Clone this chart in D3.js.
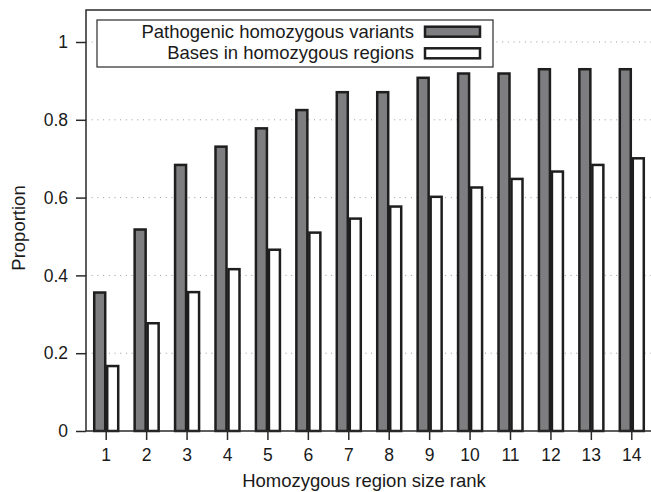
<!DOCTYPE html>
<html>
<head>
<meta charset="utf-8">
<script src="https://cdn.jsdelivr.net/npm/d3@7"></script>
<style>
  html, body { margin: 0; padding: 0; background: #fff; }
  svg { display: block; font-family: "Liberation Sans", Arial, sans-serif; }
</style>
</head>
<body>
<div id="chart"></div>
<script>
const ranks = [1, 2, 3, 4, 5, 6, 7, 8, 9, 10, 11, 12, 13, 14];
const pathogenic = [0.356, 0.518, 0.684, 0.731, 0.778, 0.825, 0.871, 0.871, 0.908, 0.919, 0.919, 0.930, 0.930, 0.930];
const bases = [0.167, 0.277, 0.357, 0.416, 0.466, 0.510, 0.546, 0.577, 0.602, 0.626, 0.648, 0.667, 0.684, 0.701];
const yTicks = [0, 0.2, 0.4, 0.6, 0.8, 1];
const seriesNames = ["Pathogenic homozygous variants", "Bases in homozygous regions"];
const seriesFill = ["#7e7e80", "#ffffff"];

const width = 651;
const height = 492;
const plotLeft = 86, plotRight = 652, plotTop = 10, plotBottom = 431;
const fontSize = 18.5;
const tickFont = 17.5;

const svg = d3.select("#chart")
    .append("svg")
    .attr("width", width)
    .attr("height", height);

const x = d3.scaleBand()
    .domain(ranks)
    .range([plotLeft, plotRight]);

const y = d3.scaleLinear()
    .domain([0, 1])
    .range([plotBottom, 42]);

const barW = 13;

// dotted grid
svg.append("g")
    .selectAll("line")
    .data(yTicks.filter(d => d > 0))
    .enter()
    .append("line")
    .attr("x1", plotLeft)
    .attr("x2", width)
    .attr("y1", d => y(d))
    .attr("y2", d => y(d))
    .attr("stroke", "#9a9a9a")
    .attr("stroke-width", 1)
    .attr("stroke-dasharray", "1,4.7");

// bars
const center = d => x(d) + x.bandwidth() / 2;

svg.append("g")
    .selectAll("rect")
    .data(ranks)
    .enter()
    .append("rect")
    .attr("x", (d) => center(d) - barW + 1)
    .attr("y", (d, i) => y(pathogenic[i]))
    .attr("width", barW - 2)
    .attr("height", (d, i) => y(0) - y(pathogenic[i]))
    .attr("fill", seriesFill[0])
    .attr("stroke", "#1e1e1e")
    .attr("stroke-width", 2.5);

svg.append("g")
    .selectAll("rect")
    .data(ranks)
    .enter()
    .append("rect")
    .attr("x", (d) => center(d) + 1)
    .attr("y", (d, i) => y(bases[i]))
    .attr("width", barW - 2)
    .attr("height", (d, i) => y(0) - y(bases[i]))
    .attr("fill", seriesFill[1])
    .attr("stroke", "#1e1e1e")
    .attr("stroke-width", 2.5);

// frame (top + left)
svg.append("path")
    .attr("d", `M${width},${plotTop}H${plotLeft}V${plotBottom}`)
    .attr("fill", "none")
    .attr("stroke", "#2a2a2a")
    .attr("stroke-width", 1.5);

// x axis
const xAxis = svg.append("g")
    .attr("transform", `translate(0,${plotBottom})`)
    .call(d3.axisBottom(x).tickSize(9).tickPadding(9));
xAxis.select(".domain").remove();
xAxis.append("line")
    .attr("x1", plotLeft).attr("x2", width)
    .attr("stroke", "#2a2a2a").attr("stroke-width", 1.5);

// y axis
const yAxis = svg.append("g")
    .attr("transform", `translate(${plotLeft},0)`)
    .call(d3.axisLeft(y).tickValues(yTicks).tickFormat(d3.format("")).tickSize(10).tickPadding(8));
yAxis.select(".domain").remove();

svg.selectAll(".tick line").attr("stroke", "#2a2a2a").attr("stroke-width", 1.5);
svg.selectAll(".tick text")
    .attr("font-family", "Liberation Sans, Arial, sans-serif")
    .attr("font-size", tickFont)
    .attr("fill", "#1a1a1a");

// axis titles
svg.append("text")
    .attr("x", 364)
    .attr("y", 487)
    .attr("text-anchor", "middle")
    .attr("font-size", fontSize)
    .attr("fill", "#1a1a1a")
    .text("Homozygous region size rank");

svg.append("text")
    .attr("transform", `translate(25,228) rotate(-90)`)
    .attr("text-anchor", "middle")
    .attr("font-size", fontSize)
    .attr("fill", "#1a1a1a")
    .text("Proportion");

// legend
const legend = svg.append("g");
legend.append("rect")
    .attr("x", 97).attr("y", 20)
    .attr("width", 396).attr("height", 47)
    .attr("fill", "#fff")
    .attr("stroke", "#2a2a2a")
    .attr("stroke-width", 1.2);

seriesNames.forEach((name, i) => {
    const yy = 31.7 + i * 21.6;
    legend.append("text")
        .attr("x", 414)
        .attr("y", yy + 6)
        .attr("text-anchor", "end")
        .attr("font-size", fontSize)
        .attr("fill", "#1a1a1a")
        .text(name);
    legend.append("rect")
        .attr("x", 425)
        .attr("y", yy - 5)
        .attr("width", 55)
        .attr("height", 10)
        .attr("fill", seriesFill[i])
        .attr("stroke", "#1e1e1e")
        .attr("stroke-width", 2.5);
});
</script>
</body>
</html>
